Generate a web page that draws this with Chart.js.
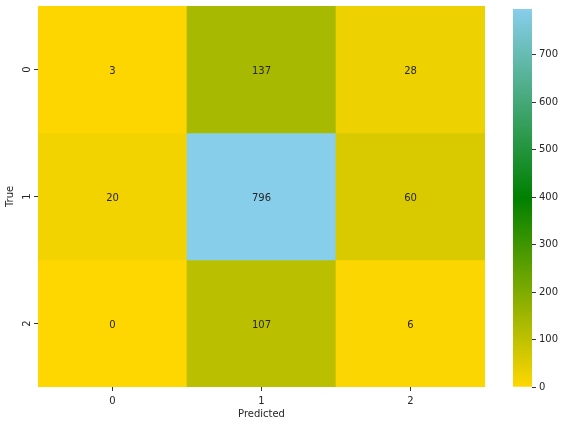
<!DOCTYPE html>
<html>
<head>
<meta charset="utf-8">
<script src="https://cdn.jsdelivr.net/npm/chart.js@4/dist/chart.umd.min.js"></script>
<style>
  body { margin: 0; background: #fff; }
  #wrap { position: relative; width: 564px; height: 425px; }
  #heat { position: absolute; left: 0; top: 0; }
  #cbar { position: absolute; left: 490px; top: 0; }
</style>
</head>
<body>
<div id="wrap">
  <canvas id="heat" width="490" height="425"></canvas>
  <canvas id="cbar" width="74" height="425"></canvas>
</div>
<script>
// confusion matrix data
const predLabels = ['0', '1', '2'];
const trueLabels = ['0', '1', '2'];
const row0 = [3, 137, 28];
const row1 = [20, 796, 60];
const row2 = [0, 107, 6];
const rows = [row0, row1, row2];
const cbarTicks = [0, 100, 200, 300, 400, 500, 600, 700];

const vmax = Math.max(...rows.flat());
const textColor = '#262626';
const font = { family: 'DejaVu Sans', size: 10 };

// gold -> green -> skyblue
const stops = [[255, 215, 0], [0, 128, 0], [135, 206, 235]];
function cmap(v) {
    let t = v / vmax * 2;
    let i = t < 1 ? 0 : 1;
    let f = t - i;
    const a = stops[i], b = stops[i + 1];
    const c = a.map((x, k) => Math.round(x + (b[k] - x) * f));
    return 'rgb(' + c.join(',') + ')';
}

const datasets = rows.map((r, ri) => ({
    label: 'True ' + trueLabels[ri],
    data: r.map(() => [ri, ri + 1]),
    backgroundColor: r.map(cmap),
    borderWidth: 0,
    grouped: false,
    barPercentage: 1,
    categoryPercentage: 1
}));

// cell annotations + rotated y tick labels
const annotate = {
    id: 'annotate',
    afterDatasetsDraw(chart) {
        const c = chart.ctx;
        c.save();
        c.fillStyle = textColor;
        c.font = '10px "DejaVu Sans"';
        c.textAlign = 'center';
        c.textBaseline = 'middle';
        chart.data.datasets.forEach((ds, ri) => {
            chart.getDatasetMeta(ri).data.forEach((el, ci) => {
                c.fillText(String(rows[ri][ci]), el.x, (el.y + el.base) / 2 + 1.5);
            });
        });
        const ys = chart.scales.y;
        trueLabels.forEach((lab, i) => {
            c.save();
            c.translate(ys.right - 10.5, ys.getPixelForValue(i + 0.5));
            c.rotate(-Math.PI / 2);
            c.fillText(lab, 0, 0);
            c.restore();
        });
        c.restore();
    }
};

new Chart(document.getElementById('heat'), {
    type: 'bar',
    data: { labels: predLabels, datasets: datasets },
    options: {
        responsive: false,
        animation: false,
        layout: { padding: { top: 6, right: 5, left: 0, bottom: 0 } },
        plugins: { legend: { display: false }, tooltip: { enabled: false } },
        scales: {
            x: {
                grid: { offset: false, drawOnChartArea: false, tickLength: 4, tickColor: '#333' },
                border: { display: false },
                ticks: { color: textColor, font: font, padding: 4 },
                title: { display: true, text: 'Predicted', color: textColor, font: font, padding: { top: 2, bottom: 5 } },
                afterFit(s) { s.height = 38; }
            },
            y: {
                min: 0, max: 3, reverse: true,
                afterBuildTicks(s) { s.ticks = [{ value: 0.5 }, { value: 1.5 }, { value: 2.5 }]; },
                grid: { drawOnChartArea: false, tickLength: 4, tickColor: '#333' },
                border: { display: false },
                ticks: { display: false },
                title: { display: true, text: 'True', color: textColor, font: font, padding: { top: 4, bottom: 0 } },
                afterFit(s) { s.width = 38; }
            }
        }
    },
    plugins: [annotate]
});

// colorbar
new Chart(document.getElementById('cbar'), {
    type: 'bar',
    data: {
        labels: [''],
        datasets: [{
            data: [[0, vmax]],
            borderWidth: 0,
            barPercentage: 1,
            categoryPercentage: 1,
            backgroundColor(ctx) {
                const area = ctx.chart.chartArea;
                if (!area) return 'rgb(255,215,0)';
                const g = ctx.chart.ctx.createLinearGradient(0, area.bottom, 0, area.top);
                g.addColorStop(0, 'rgb(255,215,0)');
                g.addColorStop(0.5, 'rgb(0,128,0)');
                g.addColorStop(1, 'rgb(135,206,235)');
                return g;
            }
        }]
    },
    options: {
        responsive: false,
        animation: false,
        layout: { padding: { top: 6, left: 23, right: 0, bottom: 38 } },
        plugins: { legend: { display: false }, tooltip: { enabled: false } },
        scales: {
            x: { display: false },
            y: {
                position: 'right',
                min: 0, max: vmax,
                afterBuildTicks(s) { s.ticks = cbarTicks.map(v => ({ value: v })); },
                grid: { drawOnChartArea: false, tickLength: 4, tickColor: '#333' },
                border: { display: false },
                ticks: { color: textColor, font: font, padding: 3 },
                afterFit(s) { s.width = 32; }
            }
        }
    }
});
</script>
</body>
</html>
